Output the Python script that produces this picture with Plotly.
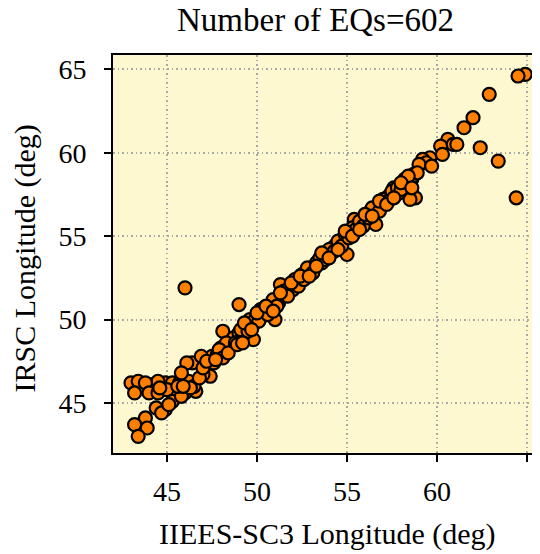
import plotly.graph_objects as go

title_text = "Number of EQs=602"
x_label = "IIEES-SC3 Longitude (deg)"
y_label = "IRSC Longitude (deg)"
tick_vals = [45, 50, 55, 60, 65]

# IIEES-SC3 longitude (x) and IRSC longitude (y)
x_lon = [
    64.9, 64.5, 62.9, 62.0, 61.5, 62.4, 63.4, 64.4, 60.6, 60.2, 60.9, 61.1, 60.3,
    59.6, 59.2, 59.4, 58.6, 58.7, 58.8, 58.5, 57.4, 57.6, 46.0, 49.0, 59.0, 59.7,
    43.0, 43.4, 44.2, 44.9, 45.3, 45.7, 44.5, 43.8,
    43.2, 44.0, 44.5, 45.5, 46.0, 46.6, 45.0,
    44.9, 44.4, 43.8, 43.2, 43.9, 43.4, 44.7, 45.3, 45.8, 45.1,
    46.2, 46.4, 46.1, 45.8, 47.3, 47.4, 47.0, 47.5, 48.3, 48.4, 48.9, 49.8, 48.1,
    46.5, 46.8, 47.0, 47.8, 48.0, 48.6,
    48.2, 48.5, 48.7, 49.0, 49.2, 49.4, 49.6, 49.8, 50.0, 50.2, 50.3, 50.5, 50.7,
    50.8, 51.0, 51.0, 51.2, 51.4, 51.3, 51.6, 51.8, 52.0, 52.2, 52.4, 52.5, 52.7,
    52.9, 53.0, 53.2, 53.4, 53.6, 53.7, 53.9, 54.1, 54.2, 54.4, 54.6, 54.8, 55.0,
    55.0, 55.2, 55.4, 55.4, 55.6, 55.8, 56.0, 56.1, 56.3, 56.5, 56.6, 56.7, 56.9,
    57.1, 57.2, 57.4, 57.7, 57.9, 58.1, 58.3, 58.5, 58.9,
    48.3, 48.8, 49.1, 49.5, 49.9, 50.1, 50.4, 50.6, 50.9, 51.1, 51.5, 51.7, 52.1,
    52.3, 52.6, 52.8, 53.1, 53.3, 53.5, 53.8, 54.0, 54.3, 54.5, 54.7, 54.9, 55.1,
    55.3, 55.5, 55.7, 55.9, 56.2, 56.4, 56.8, 57.0, 57.3, 57.5, 57.8, 58.0, 58.2,
    58.4,
    47.6, 47.9, 48.1, 48.4, 48.9, 49.3, 49.7, 50.0, 50.5, 50.9, 51.3, 51.9, 52.4,
    52.9, 53.3, 53.6, 54.0, 54.5, 54.9, 55.3, 55.7, 56.0, 56.4, 56.8, 57.2, 57.6,
    58.0, 58.6, 45.6, 46.3, 46.9, 47.2, 44.6, 45.9, 47.7, 49.2,
]
y_lon = [
    64.7, 64.6, 63.5, 62.1, 61.5, 60.3, 59.5, 57.3, 60.8, 60.4, 60.5, 60.5, 59.9,
    59.7, 59.6, 59.4, 58.4, 58.7, 57.3, 57.2, 57.5, 57.9, 51.9, 50.9, 59.3, 59.2,
    46.2, 46.3, 46.1, 46.2, 46.2, 46.2, 46.3, 46.2,
    45.6, 45.6, 45.6, 45.6, 45.6, 45.7, 45.8,
    44.6, 44.7, 44.1, 43.7, 43.5, 43.0, 44.4, 45.1, 45.4, 44.9,
    46.3, 47.4, 47.4, 46.8, 47.3, 46.6, 46.7, 47.8, 48.2, 48.7, 48.9, 48.8, 49.3,
    46.0, 46.5, 47.1, 47.9, 48.3, 48.5,
    48.0, 48.4, 48.9, 49.2, 49.0, 49.5, 50.0, 49.7, 50.1, 50.6, 50.2, 50.4, 50.6,
    50.9, 50.0, 51.1, 51.0, 51.4, 52.1, 51.5, 51.9, 51.8, 52.2, 52.3, 52.7, 52.5,
    52.9, 53.0, 53.1, 53.5, 53.4, 53.8, 53.9, 54.0, 54.3, 54.5, 54.5, 54.9, 53.9,
    55.0, 55.3, 55.2, 56.0, 55.7, 55.8, 56.0, 56.3, 56.5, 56.4, 55.7, 56.7, 56.8,
    57.0, 57.3, 57.4, 57.7, 57.6, 58.0, 58.2, 58.3, 58.8,
    48.6, 48.6, 49.4, 49.3, 50.0, 49.9, 50.7, 50.3, 51.2, 50.8, 51.7, 51.4, 52.4,
    52.0, 52.4, 53.1, 52.8, 53.4, 53.7, 53.6, 54.2, 54.1, 54.7, 54.4, 55.1, 54.9,
    55.5, 55.4, 55.9, 55.6, 56.1, 56.7, 56.5, 57.2, 57.1, 57.7, 57.9, 57.8, 58.4,
    58.6,
    47.4, 48.2, 47.7, 48.0, 48.5, 49.8, 49.4, 50.4, 50.8, 50.5, 51.6, 52.2, 52.6,
    52.6, 53.2, 54.0, 53.7, 54.2, 55.3, 55.0, 55.4, 56.3, 56.2, 57.1, 56.9, 57.3,
    58.2, 57.9, 46.0, 45.9, 47.8, 47.5, 45.9, 46.0, 47.6, 48.6,
]

serif = "Liberation Serif, Times New Roman, serif"

fig = go.Figure()
fig.add_trace(go.Scatter(
    x=x_lon, y=y_lon, mode="markers",
    marker=dict(size=13, color="#FF8000", line=dict(color="black", width=2.2)),
    showlegend=False, cliponaxis=False,
))

axis_common = dict(
    showline=True, linecolor="black", linewidth=2,
    ticks="outside", ticklen=7, tickwidth=2, tickcolor="black",
    showgrid=True, gridcolor="#a8a8a8", gridwidth=1.5, griddash="1.5px,3px",
    zeroline=False, tickvals=tick_vals,
    tickfont=dict(family=serif, size=28, color="black"),
)

fig.update_xaxes(range=[42, 65.72], mirror=True, ticklabelstandoff=5, **axis_common)
fig.update_yaxes(range=[42, 65.86], mirror=False, ticklabelstandoff=12, **axis_common)

# page body has an 8px default margin, so the figure is 8px smaller and shifted
fig.update_layout(
    width=532, height=546,
    margin=dict(l=105, r=0, t=47, b=101),
    paper_bgcolor="white", plot_bgcolor="#FDF8D0",
    annotations=[
        dict(text=title_text, xref="paper", yref="paper", x=0.4754, y=1.088,
             xanchor="center", yanchor="middle", showarrow=False,
             font=dict(family=serif, size=33, color="black")),
        dict(text=x_label, xref="paper", yref="paper", x=0.5026, y=-0.2035,
             xanchor="center", yanchor="middle", showarrow=False,
             font=dict(family=serif, size=30, color="black")),
        dict(text=y_label, xref="paper", yref="paper", x=-0.205, y=0.49,
             xanchor="center", yanchor="middle", showarrow=False, textangle=-90,
             font=dict(family=serif, size=30, color="black")),
    ],
)

fig.write_html("out.html")
